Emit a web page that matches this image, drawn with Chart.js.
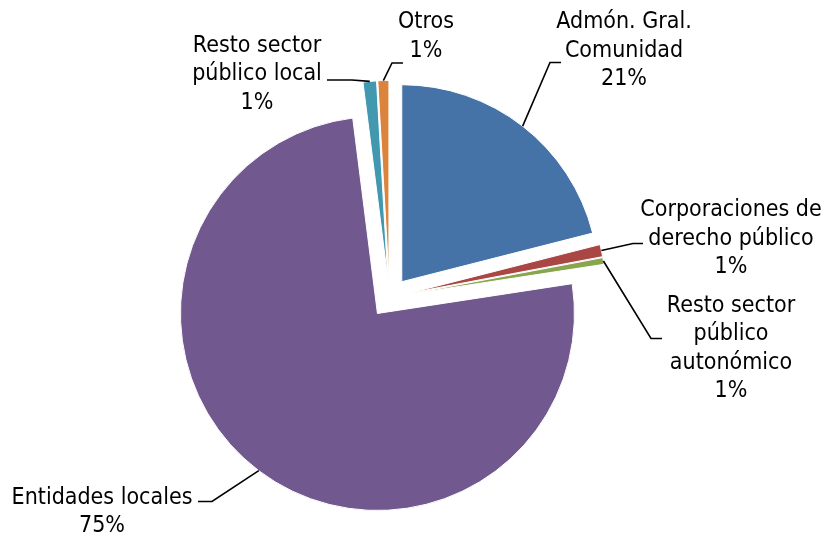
<!DOCTYPE html>
<html lang="es">
<head>
<meta charset="utf-8">
<title>Distribución por sector</title>
<script src="https://cdn.jsdelivr.net/npm/chart.js@4.4.1/dist/chart.umd.min.js"></script>
<style>
  html, body { margin: 0; padding: 0; background: #ffffff; }
  #chart { display: block; }
</style>
</head>
<body>
<canvas id="chart" width="826" height="537"></canvas>
<script>
// Slice data, clockwise from 12 o'clock
const categories = [
  ['Admón. Gral.', 'Comunidad'],
  ['Corporaciones de', 'derecho público'],
  ['Resto sector', 'público', 'autonómico'],
  ['Entidades locales'],
  ['Resto sector', 'público local'],
  ['Otros']
];
const values = [21.0, 1.0, 0.55, 75.3, 1.1, 0.9];
const sliceColors = ['#4572A7', '#AA4643', '#89A54E', '#71588F', '#4198AF', '#DB843D'];

// Where each label sits: elbow of the leader, end of its short tail, text centre x, first baseline y
const labelLayout = [
  { elbow: [550, 62.5], tail: 561, cx: 624, top: 28 },
  { elbow: [633, 243.5], tail: 643, cx: 731, top: 216 },
  { elbow: [651, 338.5], tail: 662, cx: 731, top: 311.5 },
  { elbow: [212, 501.5], tail: 198, cx: 102, top: 503.5 },
  { elbow: [352, 80], tail: 327, cx: 257, top: 51.5 },
  { elbow: [392, 63], tail: 403, cx: 426, top: 28 }
];

const EXPLODE = 20;   // px every slice is pulled out from the centre (Excel style, pure shift)
const FONT = '23px "DejaVu Sans Condensed", "DejaVu Sans", sans-serif';
const LINE_HEIGHT = 28.5;

/**
 * Excel explodes slices by a plain shift along the mid angle.
 * Chart.js' own `offset` also grows the radius, so shift the arcs here instead.
 */
const explodeSlices = {
  id: 'explodeSlices',
  beforeDatasetsDraw(chart) {
    chart.getDatasetMeta(0).data.forEach(arc => {
      const mid = (arc.startAngle + arc.endAngle) / 2;
      arc._home = { x: arc.x, y: arc.y };
      arc.x += Math.cos(mid) * EXPLODE;
      arc.y += Math.sin(mid) * EXPLODE;
    });
  },
  afterDatasetsDraw(chart) {
    chart.getDatasetMeta(0).data.forEach(arc => {
      if (arc._home) {
        arc.x = arc._home.x;
        arc.y = arc._home.y;
      }
    });
  }
};

/**
 * Draws outside labels with leader lines.
 */
const outsideLabels = {
  id: 'outsideLabels',
  afterDatasetsDraw(chart) {
    const ctx = chart.ctx;
    const meta = chart.getDatasetMeta(0);
    const data = chart.data.datasets[0].data;
    const total = data.reduce((a, b) => a + b, 0);

    ctx.save();
    ctx.font = FONT;
    ctx.fillStyle = '#000000';
    ctx.strokeStyle = '#000000';
    ctx.lineWidth = 1.6;
    ctx.textAlign = 'center';
    ctx.textBaseline = 'alphabetic';

    meta.data.forEach((arc, i) => {
      const home = arc._home || { x: arc.x, y: arc.y };
      const mid = (arc.startAngle + arc.endAngle) / 2;
      const reach = arc.outerRadius + EXPLODE;
      const ax = home.x + Math.cos(mid) * reach;
      const ay = home.y + Math.sin(mid) * reach;
      const lay = labelLayout[i];

      ctx.beginPath();
      ctx.moveTo(ax, ay);
      ctx.lineTo(lay.elbow[0], lay.elbow[1]);
      ctx.lineTo(lay.tail, lay.elbow[1]);
      ctx.stroke();

      const lines = categories[i].concat([Math.round(data[i] / total * 100) + '%']);
      lines.forEach((txt, k) => {
        ctx.fillText(txt, lay.cx, lay.top + k * LINE_HEIGHT);
      });
    });
    ctx.restore();
  }
};

function createPieChart(canvasElement) {
  const Chart = globalThis.Chart;
  if (!Chart) return null;

  return new Chart(canvasElement.getContext('2d'), {
    type: 'pie',
    data: {
      labels: categories.map(c => c.join(' ')),
      datasets: [{
        data: values,
        backgroundColor: sliceColors,
        borderColor: '#ffffff',
        borderWidth: 1,
        radius: 197
      }]
    },
    options: {
      responsive: false,
      animation: false,
      layout: { padding: { left: 0, right: 47, top: 58, bottom: 0 } },
      plugins: {
        legend: { display: false },
        tooltip: { enabled: false }
      }
    },
    plugins: [explodeSlices, outsideLabels]
  });
}

createPieChart(document.getElementById('chart'));
</script>
</body>
</html>
